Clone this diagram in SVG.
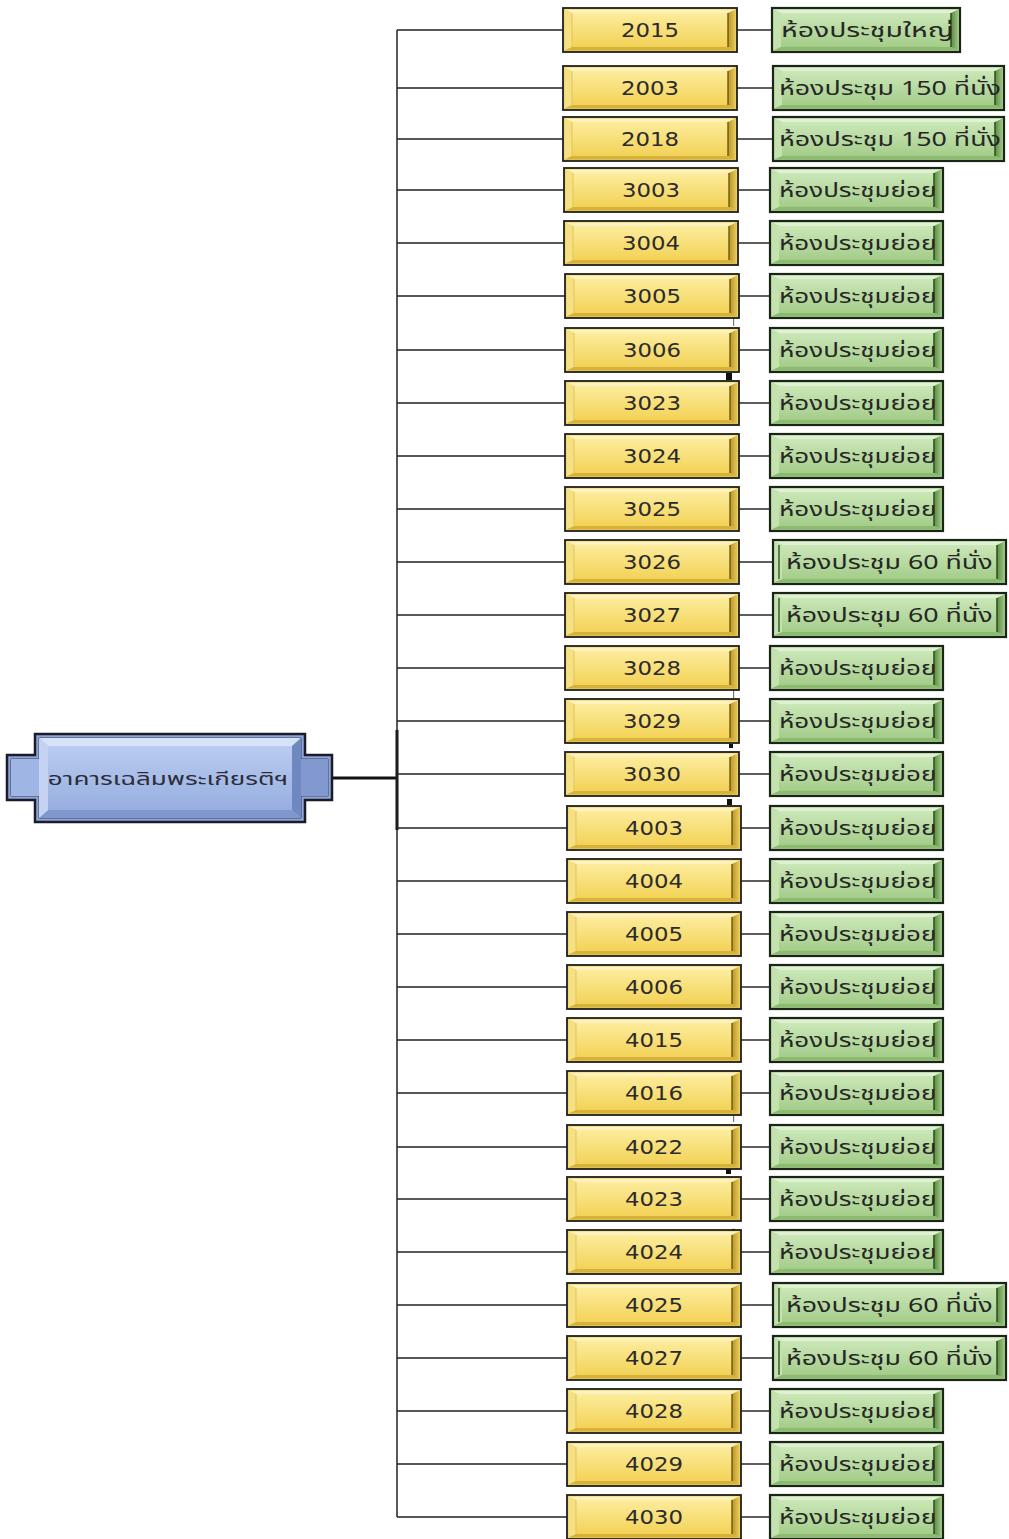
<svg xmlns="http://www.w3.org/2000/svg" xmlns:xlink="http://www.w3.org/1999/xlink" width="1009" height="1539" viewBox="0 0 1009 1539">
  <style>
    .num { font-family: "DejaVu Sans", Verdana, sans-serif; font-size: 19px; fill: #2b2b2b; text-anchor: middle; }
    .room { font-family: "Noto Sans Thai", Tahoma, "DejaVu Sans", "Noto Sans", sans-serif; font-size: 20px; fill: #262626; }
    .rootlabel { font-family: "Noto Sans Thai", Tahoma, "DejaVu Sans", "Noto Sans", sans-serif; font-size: 18px; fill: #2c2c3a; text-anchor: middle; }
    .wire { fill: none; stroke: #222; stroke-width: 1.5; }
    .wire-thick { fill: none; stroke: #111; stroke-width: 3; }
    .link { fill: none; stroke: #2a2a2a; stroke-width: 1.5; }
  </style>
  <defs>
    <linearGradient id="yFace" x1="0" y1="0" x2="0" y2="1">
      <stop offset="0" stop-color="#fcec9c"/>
      <stop offset="1" stop-color="#f3d257"/>
    </linearGradient>
    <linearGradient id="yRight" x1="0" y1="0" x2="1" y2="0">
      <stop offset="0" stop-color="#b8962a"/>
      <stop offset="1" stop-color="#e8c95a"/>
    </linearGradient>
    <linearGradient id="gFace" x1="0" y1="0" x2="0" y2="1">
      <stop offset="0" stop-color="#cbe7b8"/>
      <stop offset="1" stop-color="#a4cd8a"/>
    </linearGradient>
    <linearGradient id="gRight" x1="0" y1="0" x2="1" y2="0">
      <stop offset="0" stop-color="#5d8a44"/>
      <stop offset="1" stop-color="#9cc784"/>
    </linearGradient>
    <linearGradient id="bFace" x1="0" y1="0" x2="0" y2="1">
      <stop offset="0" stop-color="#b9cbef"/>
      <stop offset="1" stop-color="#97afe0"/>
    </linearGradient>

    <!-- yellow bevelled room-number box, 174 x 44 -->
    <g id="ybox">
      <rect x="0" y="0" width="174" height="44" fill="#efd060" stroke="#1e1e1e" stroke-width="1.8"/>
      <polygon points="1.5,1.5 172.5,1.5 165,5 9,5" fill="#fdf2bd"/>
      <polygon points="1.5,1.5 9,5 9,39 1.5,42.5" fill="#f6e084"/>
      <polygon points="172.5,1.5 172.5,42.5 165,39 165,5" fill="url(#yRight)"/>
      <polygon points="1.5,42.5 9,39 165,39 172.5,42.5" fill="#d7b23a"/>
      <rect x="9" y="5" width="156" height="34" fill="url(#yFace)"/>
      <line x1="165" y1="5" x2="165" y2="39" stroke="#6e580e" stroke-width="1.4"/>
      <line x1="9" y1="5" x2="9" y2="39" stroke="#e2c55a" stroke-width="1"/>
    </g>

    <!-- green bevelled room-type boxes in four widths -->
    <g id="gshort">
      <rect x="0" y="0" width="173" height="44" fill="#a9d18f" stroke="#1a2418" stroke-width="2.2"/>
      <polygon points="1.5,1.5 171.5,1.5 164,5 9,5" fill="#dff1d2"/>
      <polygon points="1.5,1.5 9,5 9,39 1.5,42.5" fill="#c4e2b0"/>
      <polygon points="171.5,1.5 171.5,42.5 164,39 164,5" fill="url(#gRight)"/>
      <polygon points="1.5,42.5 9,39 164,39 171.5,42.5" fill="#8cba6f"/>
      <rect x="9" y="5" width="155" height="34" fill="url(#gFace)"/>
      <line x1="164" y1="5" x2="164" y2="39" stroke="#2f5520" stroke-width="1.6"/>
    </g>
    <g id="gbig">
      <rect x="0" y="0" width="188" height="44" fill="#a9d18f" stroke="#1a2418" stroke-width="2.2"/>
      <polygon points="1.5,1.5 186.5,1.5 179,5 9,5" fill="#dff1d2"/>
      <polygon points="1.5,1.5 9,5 9,39 1.5,42.5" fill="#c4e2b0"/>
      <polygon points="186.5,1.5 186.5,42.5 179,39 179,5" fill="url(#gRight)"/>
      <polygon points="1.5,42.5 9,39 179,39 186.5,42.5" fill="#8cba6f"/>
      <rect x="9" y="5" width="170" height="34" fill="url(#gFace)"/>
      <line x1="179" y1="5" x2="179" y2="39" stroke="#2f5520" stroke-width="1.6"/>
    </g>
    <g id="g150">
      <rect x="0" y="0" width="231" height="44" fill="#a9d18f" stroke="#1a2418" stroke-width="2.2"/>
      <polygon points="1.5,1.5 229.5,1.5 222,5 9,5" fill="#dff1d2"/>
      <polygon points="1.5,1.5 9,5 9,39 1.5,42.5" fill="#c4e2b0"/>
      <polygon points="229.5,1.5 229.5,42.5 222,39 222,5" fill="url(#gRight)"/>
      <polygon points="1.5,42.5 9,39 222,39 229.5,42.5" fill="#8cba6f"/>
      <rect x="9" y="5" width="213" height="34" fill="url(#gFace)"/>
      <line x1="222" y1="5" x2="222" y2="39" stroke="#2f5520" stroke-width="1.6"/>
    </g>
    <g id="g60">
      <rect x="0" y="0" width="233" height="44" fill="#a9d18f" stroke="#1a2418" stroke-width="2.2"/>
      <polygon points="1.5,1.5 231.5,1.5 224,5 9,5" fill="#dff1d2"/>
      <polygon points="1.5,1.5 9,5 9,39 1.5,42.5" fill="#c4e2b0"/>
      <polygon points="231.5,1.5 231.5,42.5 224,39 224,5" fill="url(#gRight)"/>
      <polygon points="1.5,42.5 9,39 224,39 231.5,42.5" fill="#8cba6f"/>
      <rect x="9" y="5" width="215" height="34" fill="url(#gFace)"/>
      <line x1="224" y1="5" x2="224" y2="39" stroke="#2f5520" stroke-width="1.6"/>
      <line x1="6" y1="5" x2="6" y2="39" stroke="#2f5520" stroke-width="1.4"/>
    </g>
  </defs>

  <rect width="1009" height="1539" fill="#ffffff"/>

  <!-- connectors -->
  <g id="connectors">
    <!-- trunk from building node -->
    <polyline class="wire-thick" points="332,778 397,778"/>
    <line class="wire-thick" x1="397" y1="730" x2="397" y2="830"/>
    <line class="wire" x1="397" y1="30" x2="397" y2="1517"/>
    <!-- branches to room numbers -->
    <path class="wire" d="M397,30H563 M397,88H563 M397,139H563 M397,190H564 M397,243H564 M397,296H565 M397,350H565 M397,403H565 M397,456H565 M397,509H565 M397,562H565 M397,615H565 M397,668H565 M397,721H565 M397,774H565 M397,828H567 M397,881H567 M397,934H567 M397,987H567 M397,1040H567 M397,1093H567 M397,1147H567 M397,1199H567 M397,1252H567 M397,1305H567 M397,1358H567 M397,1411H567 M397,1464H567 M397,1517H567"/>
    <!-- room number to room type -->
    <path class="link" d="M737,30H772 M737,88H773 M737,139H773 M738,190H770 M738,243H770 M739,296H770 M739,350H770 M739,403H770 M739,456H770 M739,509H770 M739,562H773 M739,615H773 M739,668H770 M739,721H770 M739,774H770 M741,828H770 M741,881H770 M741,934H770 M741,987H770 M741,1040H770 M741,1093H770 M741,1147H770 M741,1199H770 M741,1252H770 M741,1305H773 M741,1358H773 M741,1411H770 M741,1464H770 M741,1517H770"/>
  </g>

  <!-- small stray marks beside the number column -->
  <g id="marks" fill="#111">
    <rect x="733" y="300" width="1.2" height="26" fill="#777"/>
    <rect x="726" y="373" width="6" height="7"/>
    <rect x="733" y="690" width="1.2" height="10" fill="#777"/>
    <rect x="729" y="744" width="4" height="4"/>
    <rect x="727" y="799" width="5" height="6"/>
    <rect x="733" y="1100" width="1.2" height="22" fill="#777"/>
    <rect x="726" y="1169" width="5" height="5"/>
    <path d="M730,1232 q1,-4 5,-3 v3 z"/>
  </g>

  <!-- building node -->
  <g id="building">
    <polygon points="35,734 305,734 305,755 332,755 332,800 305,800 305,822 35,822 35,800 7,800 7,755 35,755" fill="#8ea6d7" stroke="#1b1b2b" stroke-width="2.5"/>
    <polygon points="39,738 301,738 301,759 328,759 328,796 301,796 301,818 39,818 39,796 11,796 11,759 39,759" fill="#aec3ec" stroke="#3a3f55" stroke-width="1"/>
    <polygon points="39,738 301,738 292,746 48,746" fill="#d6e2f7"/>
    <polygon points="301,738 301,818 292,810 292,746" fill="#6f88c0"/>
    <polygon points="39,818 48,810 292,810 301,818" fill="#7e97cc"/>
    <polygon points="39,738 48,746 48,810 39,818" fill="#c3d3f1"/>
    <rect x="48" y="746" width="244" height="64" fill="url(#bFace)"/>
    <polygon points="11,759 39,759 39,796 11,796" fill="#9fb6e4"/>
    <polygon points="301,759 328,759 328,796 301,796" fill="#8199cf"/>
    <text class="rootlabel" transform="translate(168,785) scale(1.45,1)">อาคารเฉลิมพระเกียรติฯ</text>
  </g>

  <!-- room number nodes -->
  <g id="n2015"><use href="#ybox" x="563" y="8"/><text class="num" transform="translate(650,37) scale(1.2,1)">2015</text></g>
  <g id="n2003"><use href="#ybox" x="563" y="66"/><text class="num" transform="translate(650,95) scale(1.2,1)">2003</text></g>
  <g id="n2018"><use href="#ybox" x="563" y="117"/><text class="num" transform="translate(650,146) scale(1.2,1)">2018</text></g>
  <g id="n3003"><use href="#ybox" x="564" y="168"/><text class="num" transform="translate(651,197) scale(1.2,1)">3003</text></g>
  <g id="n3004"><use href="#ybox" x="564" y="221"/><text class="num" transform="translate(651,250) scale(1.2,1)">3004</text></g>
  <g id="n3005"><use href="#ybox" x="565" y="274"/><text class="num" transform="translate(652,303) scale(1.2,1)">3005</text></g>
  <g id="n3006"><use href="#ybox" x="565" y="328"/><text class="num" transform="translate(652,357) scale(1.2,1)">3006</text></g>
  <g id="n3023"><use href="#ybox" x="565" y="381"/><text class="num" transform="translate(652,410) scale(1.2,1)">3023</text></g>
  <g id="n3024"><use href="#ybox" x="565" y="434"/><text class="num" transform="translate(652,463) scale(1.2,1)">3024</text></g>
  <g id="n3025"><use href="#ybox" x="565" y="487"/><text class="num" transform="translate(652,516) scale(1.2,1)">3025</text></g>
  <g id="n3026"><use href="#ybox" x="565" y="540"/><text class="num" transform="translate(652,569) scale(1.2,1)">3026</text></g>
  <g id="n3027"><use href="#ybox" x="565" y="593"/><text class="num" transform="translate(652,622) scale(1.2,1)">3027</text></g>
  <g id="n3028"><use href="#ybox" x="565" y="646"/><text class="num" transform="translate(652,675) scale(1.2,1)">3028</text></g>
  <g id="n3029"><use href="#ybox" x="565" y="699"/><text class="num" transform="translate(652,728) scale(1.2,1)">3029</text></g>
  <g id="n3030"><use href="#ybox" x="565" y="752"/><text class="num" transform="translate(652,781) scale(1.2,1)">3030</text></g>
  <g id="n4003"><use href="#ybox" x="567" y="806"/><text class="num" transform="translate(654,835) scale(1.2,1)">4003</text></g>
  <g id="n4004"><use href="#ybox" x="567" y="859"/><text class="num" transform="translate(654,888) scale(1.2,1)">4004</text></g>
  <g id="n4005"><use href="#ybox" x="567" y="912"/><text class="num" transform="translate(654,941) scale(1.2,1)">4005</text></g>
  <g id="n4006"><use href="#ybox" x="567" y="965"/><text class="num" transform="translate(654,994) scale(1.2,1)">4006</text></g>
  <g id="n4015"><use href="#ybox" x="567" y="1018"/><text class="num" transform="translate(654,1047) scale(1.2,1)">4015</text></g>
  <g id="n4016"><use href="#ybox" x="567" y="1071"/><text class="num" transform="translate(654,1100) scale(1.2,1)">4016</text></g>
  <g id="n4022"><use href="#ybox" x="567" y="1125"/><text class="num" transform="translate(654,1154) scale(1.2,1)">4022</text></g>
  <g id="n4023"><use href="#ybox" x="567" y="1177"/><text class="num" transform="translate(654,1206) scale(1.2,1)">4023</text></g>
  <g id="n4024"><use href="#ybox" x="567" y="1230"/><text class="num" transform="translate(654,1259) scale(1.2,1)">4024</text></g>
  <g id="n4025"><use href="#ybox" x="567" y="1283"/><text class="num" transform="translate(654,1312) scale(1.2,1)">4025</text></g>
  <g id="n4027"><use href="#ybox" x="567" y="1336"/><text class="num" transform="translate(654,1365) scale(1.2,1)">4027</text></g>
  <g id="n4028"><use href="#ybox" x="567" y="1389"/><text class="num" transform="translate(654,1418) scale(1.2,1)">4028</text></g>
  <g id="n4029"><use href="#ybox" x="567" y="1442"/><text class="num" transform="translate(654,1471) scale(1.2,1)">4029</text></g>
  <g id="n4030"><use href="#ybox" x="567" y="1495"/><text class="num" transform="translate(654,1524) scale(1.2,1)">4030</text></g>

  <!-- room type nodes -->
  <g id="t2015"><use href="#gbig" x="772" y="8"/><text class="room" transform="translate(781,37) scale(1.42,1)">ห้องประชุมใหญ่</text></g>
  <g id="t2003"><use href="#g150" x="773" y="66"/><text class="room" transform="translate(779,95) scale(1.34,1)">ห้องประชุม 150 ที่นั่ง</text></g>
  <g id="t2018"><use href="#g150" x="773" y="117"/><text class="room" transform="translate(779,146) scale(1.34,1)">ห้องประชุม 150 ที่นั่ง</text></g>
  <g id="t3003"><use href="#gshort" x="770" y="168"/><text class="room" transform="translate(779,197) scale(1.3,1)">ห้องประชุมย่อย</text></g>
  <g id="t3004"><use href="#gshort" x="770" y="221"/><text class="room" transform="translate(779,250) scale(1.3,1)">ห้องประชุมย่อย</text></g>
  <g id="t3005"><use href="#gshort" x="770" y="274"/><text class="room" transform="translate(779,303) scale(1.3,1)">ห้องประชุมย่อย</text></g>
  <g id="t3006"><use href="#gshort" x="770" y="328"/><text class="room" transform="translate(779,357) scale(1.3,1)">ห้องประชุมย่อย</text></g>
  <g id="t3023"><use href="#gshort" x="770" y="381"/><text class="room" transform="translate(779,410) scale(1.3,1)">ห้องประชุมย่อย</text></g>
  <g id="t3024"><use href="#gshort" x="770" y="434"/><text class="room" transform="translate(779,463) scale(1.3,1)">ห้องประชุมย่อย</text></g>
  <g id="t3025"><use href="#gshort" x="770" y="487"/><text class="room" transform="translate(779,516) scale(1.3,1)">ห้องประชุมย่อย</text></g>
  <g id="t3026"><use href="#g60" x="773" y="540"/><text class="room" transform="translate(786,569) scale(1.34,1)">ห้องประชุม 60 ที่นั่ง</text></g>
  <g id="t3027"><use href="#g60" x="773" y="593"/><text class="room" transform="translate(786,622) scale(1.34,1)">ห้องประชุม 60 ที่นั่ง</text></g>
  <g id="t3028"><use href="#gshort" x="770" y="646"/><text class="room" transform="translate(779,675) scale(1.3,1)">ห้องประชุมย่อย</text></g>
  <g id="t3029"><use href="#gshort" x="770" y="699"/><text class="room" transform="translate(779,728) scale(1.3,1)">ห้องประชุมย่อย</text></g>
  <g id="t3030"><use href="#gshort" x="770" y="752"/><text class="room" transform="translate(779,781) scale(1.3,1)">ห้องประชุมย่อย</text></g>
  <g id="t4003"><use href="#gshort" x="770" y="806"/><text class="room" transform="translate(779,835) scale(1.3,1)">ห้องประชุมย่อย</text></g>
  <g id="t4004"><use href="#gshort" x="770" y="859"/><text class="room" transform="translate(779,888) scale(1.3,1)">ห้องประชุมย่อย</text></g>
  <g id="t4005"><use href="#gshort" x="770" y="912"/><text class="room" transform="translate(779,941) scale(1.3,1)">ห้องประชุมย่อย</text></g>
  <g id="t4006"><use href="#gshort" x="770" y="965"/><text class="room" transform="translate(779,994) scale(1.3,1)">ห้องประชุมย่อย</text></g>
  <g id="t4015"><use href="#gshort" x="770" y="1018"/><text class="room" transform="translate(779,1047) scale(1.3,1)">ห้องประชุมย่อย</text></g>
  <g id="t4016"><use href="#gshort" x="770" y="1071"/><text class="room" transform="translate(779,1100) scale(1.3,1)">ห้องประชุมย่อย</text></g>
  <g id="t4022"><use href="#gshort" x="770" y="1125"/><text class="room" transform="translate(779,1154) scale(1.3,1)">ห้องประชุมย่อย</text></g>
  <g id="t4023"><use href="#gshort" x="770" y="1177"/><text class="room" transform="translate(779,1206) scale(1.3,1)">ห้องประชุมย่อย</text></g>
  <g id="t4024"><use href="#gshort" x="770" y="1230"/><text class="room" transform="translate(779,1259) scale(1.3,1)">ห้องประชุมย่อย</text></g>
  <g id="t4025"><use href="#g60" x="773" y="1283"/><text class="room" transform="translate(786,1312) scale(1.34,1)">ห้องประชุม 60 ที่นั่ง</text></g>
  <g id="t4027"><use href="#g60" x="773" y="1336"/><text class="room" transform="translate(786,1365) scale(1.34,1)">ห้องประชุม 60 ที่นั่ง</text></g>
  <g id="t4028"><use href="#gshort" x="770" y="1389"/><text class="room" transform="translate(779,1418) scale(1.3,1)">ห้องประชุมย่อย</text></g>
  <g id="t4029"><use href="#gshort" x="770" y="1442"/><text class="room" transform="translate(779,1471) scale(1.3,1)">ห้องประชุมย่อย</text></g>
  <g id="t4030"><use href="#gshort" x="770" y="1495"/><text class="room" transform="translate(779,1524) scale(1.3,1)">ห้องประชุมย่อย</text></g>
</svg>
